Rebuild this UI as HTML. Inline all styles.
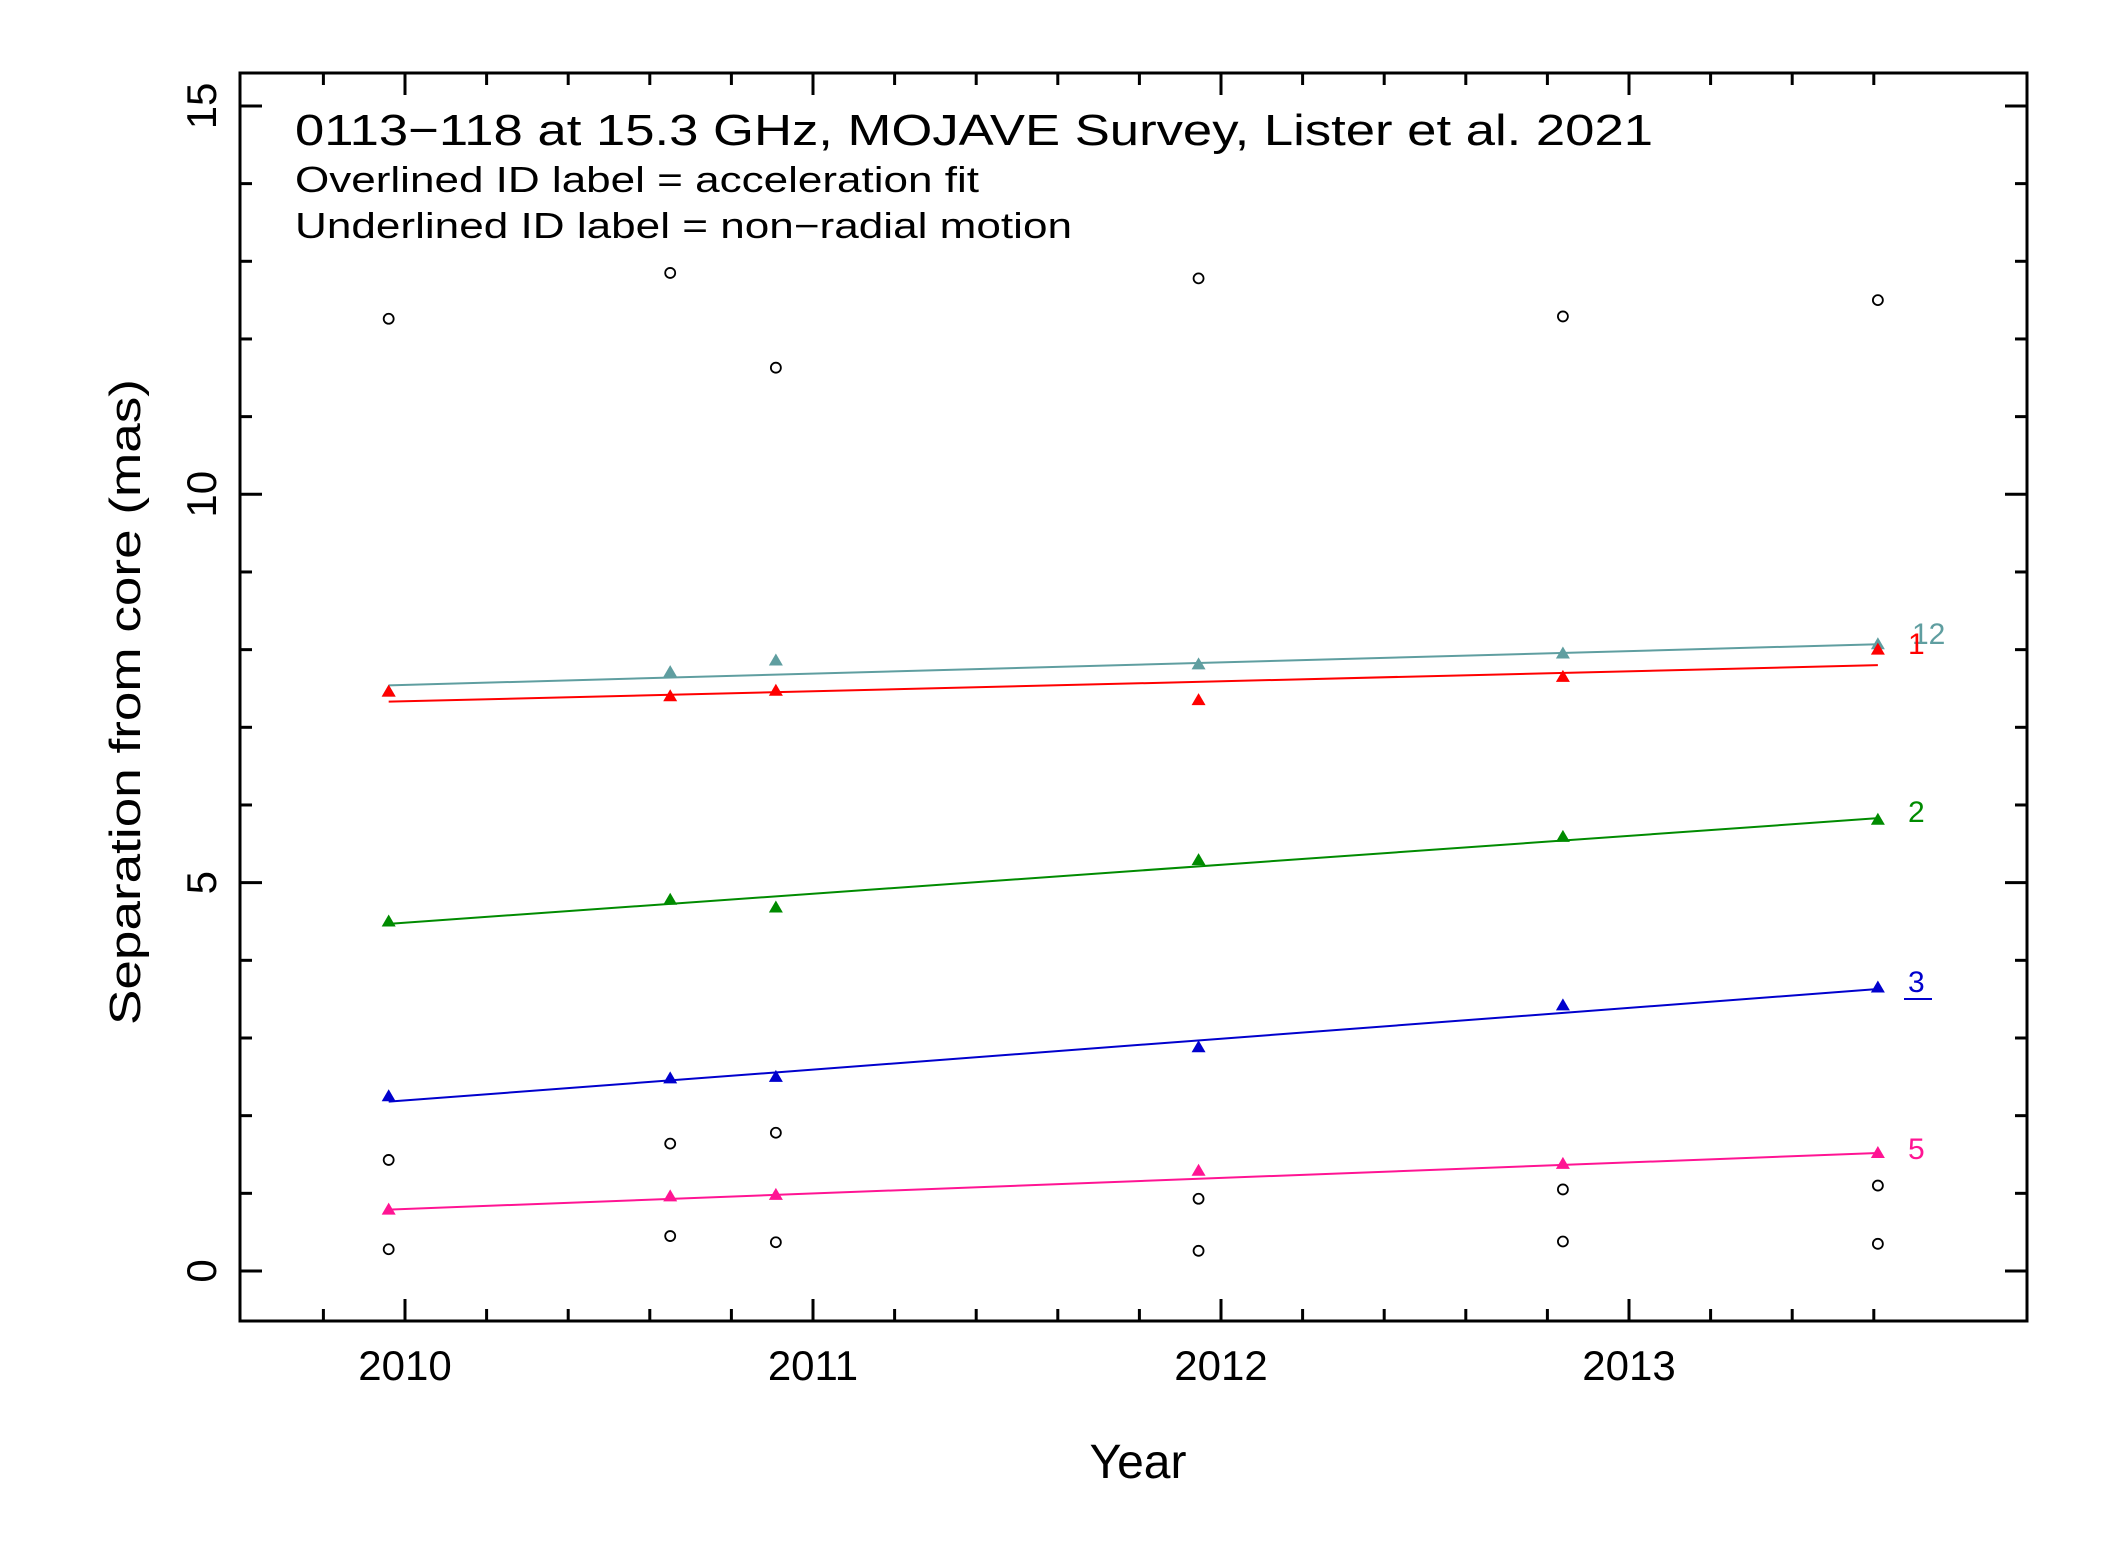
<!DOCTYPE html>
<html><head><meta charset="utf-8"><style>
html,body{margin:0;padding:0;background:#fff;}
svg{display:block;font-family:"Liberation Sans",sans-serif;}
</style></head><body>
<svg id="chart" width="2127" height="1546" viewBox="0 0 2127 1546" xmlns="http://www.w3.org/2000/svg">
<rect x="0" y="0" width="2127" height="1546" fill="#fff"/>
<g id="ticks"></g>
<g id="marks"></g>
<rect x="240" y="73" width="1787" height="1248" fill="none" stroke="#000" stroke-width="3"/>
<text x="295" y="145" font-size="44" textLength="1358" lengthAdjust="spacingAndGlyphs">0113−118 at 15.3 GHz, MOJAVE Survey, Lister et al. 2021</text>
<text x="295" y="192" font-size="36" textLength="684" lengthAdjust="spacingAndGlyphs">Overlined ID label = acceleration fit</text>
<text x="295" y="238" font-size="36" textLength="777" lengthAdjust="spacingAndGlyphs">Underlined ID label = non−radial motion</text>
<text x="1138" y="1478" font-size="48" text-anchor="middle">Year</text>
<text transform="translate(140,702) rotate(-90)" font-size="44" text-anchor="middle" textLength="646" lengthAdjust="spacingAndGlyphs">Separation from core (mas)</text>
</svg>
<script>
const epochs = [2009.96, 2010.65, 2010.909, 2011.945, 2012.838, 2013.61];
const comp12 = [7.46, 7.71, 7.86, 7.81, 7.95, 8.07];
const comp1 = [7.46, 7.40, 7.47, 7.35, 7.65, 8.00];
const comp2 = [4.50, 4.78, 4.68, 5.29, 5.59, 5.81];
const comp3 = [2.25, 2.48, 2.50, 2.88, 3.42, 3.65];
const comp5 = [0.79, 0.96, 0.98, 1.29, 1.38, 1.52];
const fit12 = [7.54, 8.07];
const fit1 = [7.33, 7.80];
const fit2 = [4.47, 5.83];
const fit3 = [2.18, 3.63];
const fit5 = [0.79, 1.52];
const unassignedA = [12.26, 12.85, 11.63, 12.78, 12.29, 12.50];
const unassignedB = [1.43, 1.64, 1.78, 0.93, 1.05, 1.10];
const unassignedC = [0.28, 0.45, 0.37, 0.26, 0.38, 0.35];
const xTickLabels = ["2010", "2011", "2012", "2013"];
const yTickLabels = ["0", "5", "10", "15"];

const NS = "http://www.w3.org/2000/svg";
const L = 240, R = 2027, T = 73, B = 1321;
function xs(v){ return 405 + (v - 2010) * 408; }
function ys(v){ return 1271 - v * 77.67; }
function mk(tag, attrs, parent){ const e = document.createElementNS(NS, tag); for (const k in attrs) e.setAttribute(k, attrs[k]); parent.appendChild(e); return e; }
const ticks = document.getElementById('ticks');
const marks = document.getElementById('marks');

for (let i = 0; i <= 19; i++) {
  const yr = 2009.8 + i * 0.2;
  const x = xs(yr);
  if (x < L || x > R) continue;
  const major = Math.abs(yr - Math.round(yr)) < 0.01;
  const len = major ? 22 : 12;
  let t = mk('line', {x1: x, x2: x, y1: B, y2: B - len, stroke: '#000', 'stroke-width': 3}, ticks);
  
  
  t = mk('line', {x1: x, x2: x, y1: T, y2: T + len, stroke: '#000', 'stroke-width': 3}, ticks);
  
  
}
xTickLabels.forEach(s => {
  const t = mk('text', {x: xs(+s), y: 1380, 'font-size': 42, 'text-anchor': 'middle'}, ticks);
  t.textContent = s;
  
  
});
for (let v = 0; v <= 15; v++) {
  const y = ys(v);
  const len = v % 5 === 0 ? 22 : 12;
  let t = mk('line', {x1: L, x2: L + len, y1: y, y2: y, stroke: '#000', 'stroke-width': 3}, ticks);
  
  
  t = mk('line', {x1: R, x2: R - len, y1: y, y2: y, stroke: '#000', 'stroke-width': 3}, ticks);
  
  
}
yTickLabels.forEach(s => {
  const t = mk('text', {transform: `translate(216,${ys(+s)}) rotate(-90)`, 'font-size': 42, 'text-anchor': 'middle'}, ticks);
  t.textContent = s;
  
  
});

[unassignedA, unassignedB, unassignedC].forEach(arr => {
  arr.forEach((v, i) => {
    const c = mk('circle', {cx: xs(epochs[i]), cy: ys(v), r: 5, fill: 'none', stroke: '#000', 'stroke-width': 1.8}, marks);
    
    
  });
});

const series = [
  {name: '12', vals: comp12, fit: fit12, color: '#5f9ea0', lx: 1912, ly: 644},
  {name: '1', vals: comp1, fit: fit1, color: '#ff0000', lx: 1908, ly: 654},
  {name: '2', vals: comp2, fit: fit2, color: '#008b00', lx: 1908, ly: 822},
  {name: '3', vals: comp3, fit: fit3, color: '#0000cd', lx: 1908, ly: 992, under: true},
  {name: '5', vals: comp5, fit: fit5, color: '#ff1493', lx: 1908, ly: 1159}
];
series.forEach(s => {
  const x0 = xs(epochs[0]), x1 = xs(epochs[epochs.length - 1]);
  const ln = mk('line', {x1: x0, x2: x1, y1: ys(s.fit[0]), y2: ys(s.fit[1]), stroke: s.color, 'stroke-width': 2}, marks);
  
  
  s.vals.forEach((v, i) => {
    const x = xs(epochs[i]), y = ys(v);
    const p = mk('polygon', {points: `${x-7},${y+5} ${x+7},${y+5} ${x},${y-7}`, fill: s.color}, marks);
    
    
  });
  const t = mk('text', {x: s.lx, y: s.ly, 'font-size': 30, fill: s.color}, marks);
  t.textContent = s.name;
  
  
  if (s.under) {
    const u = mk('line', {x1: 1904, x2: 1932, y1: s.ly + 7, y2: s.ly + 7, stroke: s.color, 'stroke-width': 2}, marks);
    
    
  }
});
</script>
</body></html>
